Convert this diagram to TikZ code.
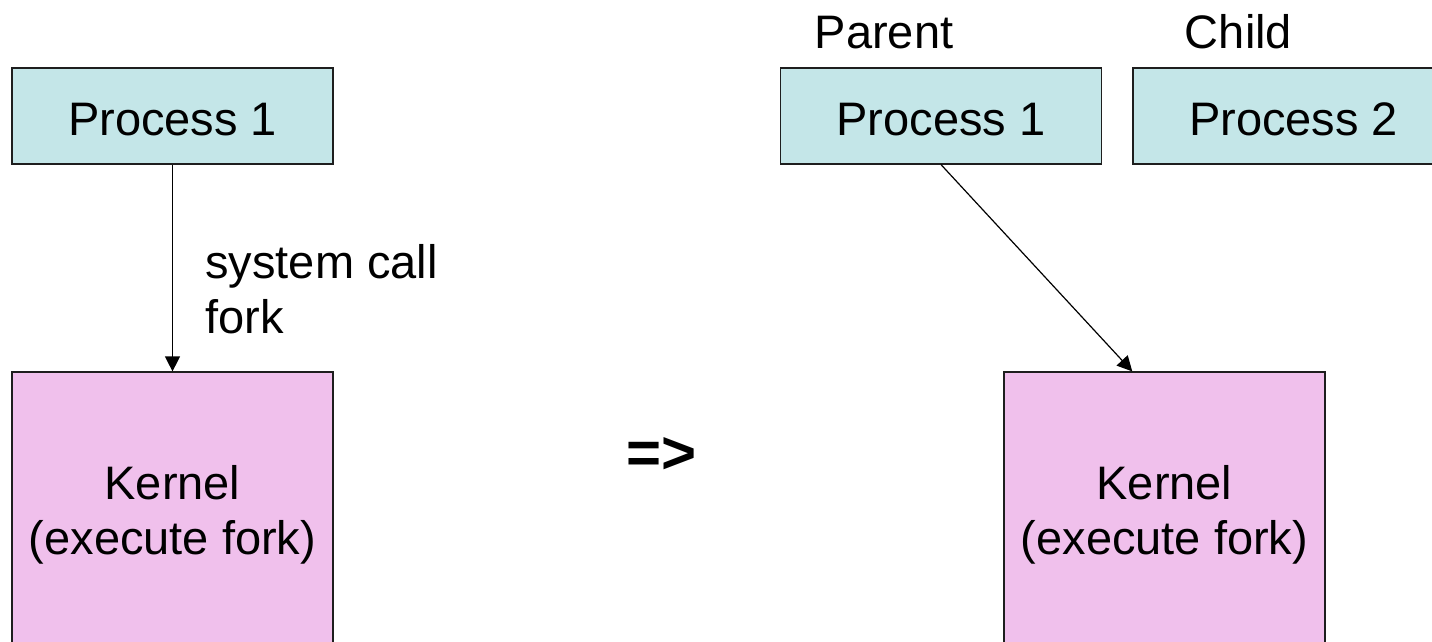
\documentclass[tikz,border=0pt]{standalone}
\usepackage{fontspec}
\setmainfont{Liberation Sans}
\usetikzlibrary{arrows.meta,calc}
\definecolor{procfill}{RGB}{196,230,232}
\definecolor{kernfill}{RGB}{240,192,236}
\definecolor{edgegray}{RGB}{30,30,30}
\begin{document}
\begin{tikzpicture}[x=0.5pt,y=-0.5pt,
  every node/.style={font=\fontsize{23.5}{27.5}\selectfont},
  procbox/.style={draw=edgegray, line width=0.6pt, fill=procfill,
    minimum width=160.5pt, minimum height=48pt, inner sep=0pt,
    text height=20pt, text depth=0pt},
  kernbox/.style={draw=edgegray, line width=0.6pt, fill=kernfill,
    minimum width=160.5pt, minimum height=174pt, inner sep=0pt},
  caption/.style={inner sep=0pt, align=center},
  link/.style={draw=black, line width=0.6pt,
    -{Triangle[length=7.5pt,width=7.5pt]}}]
\useasboundingbox (0,0) rectangle (1432,642);

% before the call: one process above the kernel
\node[procbox] (p1L) at (172.5,116) {Process 1};
\node[kernbox] (kL) at (172.5,546) {};
\node[caption, anchor=north] (kLtext) at (172.5,465) {Kernel\\(execute fork)};
\draw[link] (p1L.south) -- (kL.north);
\node[caption, anchor=north west, align=left] (sysc) at (205,244) {system call\\fork};

% transition mark
\node[font=\fontsize{30}{36}\selectfont\bfseries, inner sep=0pt] (imp) at (661.5,455) {=>};

% after the call: parent and child
\node[anchor=base, inner sep=0pt] (par) at (884,49) {Parent};
\node[anchor=base, inner sep=0pt] (chi) at (1238.5,49) {Child};
\node[procbox] (p1R) at (941,116) {Process 1};
\node[procbox] (p2R) at (1293.5,116) {Process 2};
\node[kernbox] (kR) at (1164.5,546) {};
\node[caption, anchor=north] (kRtext) at (1164.5,465) {Kernel\\(execute fork)};
\draw[link] (p1R.south) -- ($(kR.north west)!0.4!(kR.north east)$);
\end{tikzpicture}
\end{document}
